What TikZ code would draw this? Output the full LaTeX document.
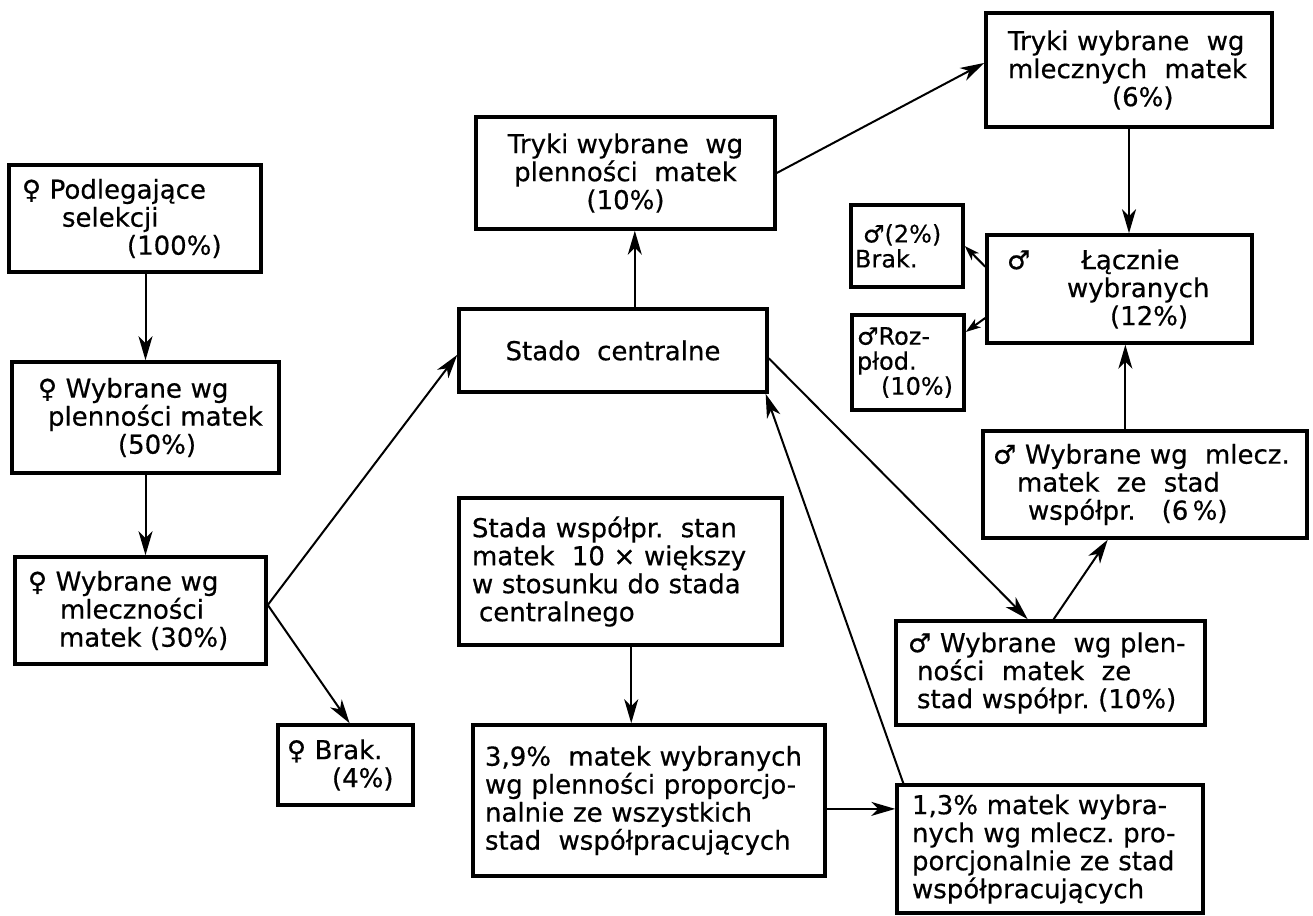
\documentclass[tikz,border=0pt]{standalone}
\usepackage{fontspec}
\setmainfont{DejaVu Sans}[FakeBold=0.5]
\usetikzlibrary{arrows.meta,calc}
\hyphenpenalty=10000
\exhyphenpenalty=10000
\lefthyphenmin=64
\begin{document}
\begin{tikzpicture}[x=1pt,y=-1pt,
  box/.style={draw, line width=3.5pt, rectangle, align=left, inner ysep=2pt, font=\fontsize{26}{28}\selectfont},
  cbox/.style={box, align=center},
  sbox/.style={box, font=\fontsize{24}{25}\selectfont},
  arr/.style={line width=2pt, -{Stealth[length=24pt,width=14pt,inset=7pt]}},
  sarr/.style={line width=2pt, -{Stealth[length=15pt,width=10pt,inset=4pt]}}]
\useasboundingbox (0,0) rectangle (1313,915);

% female column
\node[box, minimum width=252pt, minimum height=107pt, text width=226pt, inner xsep=13pt] (b1) at (135,218.5)
  {♀~Podlegające\\\hspace*{40pt}selekcji\\\hspace*{105pt}(100\%)};
\node[box, minimum width=267pt, minimum height=111pt, text width=215pt, inner xsep=26pt] (b2) at (145.5,417.5)
  {♀~Wybrane~wg\\\hspace*{10pt}plenności~matek\\\hspace*{80pt}(50\%)};
\node[box, minimum width=251pt, minimum height=107pt, text width=225pt, inner xsep=13pt] (b3) at (140.5,610.5)
  {♀~Wybrane~wg\\\hspace*{32pt}mleczności\\\hspace*{31pt}matek~(30\%)};
\node[box, minimum width=135pt, minimum height=80pt, text width=117pt, inner xsep=9pt] (b4) at (345.5,765)
  {♀~Brak.\\\hspace*{45pt}(4\%)};

% centre
\node[cbox, minimum width=308pt, minimum height=83pt] (b5) at (613,350.5) {Stado~~centralne};
\node[cbox, minimum width=299pt, minimum height=112pt] (b6) at (625.5,173)
  {Tryki~wybrane~~wg\\plenności~~matek\\(10\%)};
\node[box, minimum width=323pt, minimum height=147pt, text width=297pt, inner xsep=13pt] (b13) at (620.5,571.5)
  {Stada~współpr.~~stan\\matek~~10~×~większy\\w~stosunku~do~stada\\\hspace*{7pt}centralnego};
\node[box, minimum width=352pt, minimum height=151pt, text width=328pt, inner xsep=12pt] (b14) at (649,800.5)
  {3,9\%~~matek~wybranych\\wg~plenności~proporcjo-\\nalnie~ze~wszystkich\\stad~~współpracujących};

% male side
\node[box, minimum width=286pt, minimum height=114pt, text width=242pt, inner xsep=22pt] (b7) at (1129,70)
  {Tryki~wybrane~~wg\\mlecznych~~matek\\\hspace*{104pt}(6\%)};
\node[box, minimum width=265pt, minimum height=108pt, text width=225pt, inner xsep=20pt] (b8) at (1119.5,289)
  {♂\hspace*{51pt}Łącznie\\\hspace*{60pt}wybranych\\\hspace*{103pt}(12\%)};
\node[sbox, minimum width=112pt, minimum height=82pt, text width=104pt, inner xsep=4pt] (b9) at (907,246)
  {\hspace*{8pt}♂(2\%)\\Brak.};
\node[sbox, minimum width=112pt, minimum height=95pt, text width=102pt, inner xsep=5pt] (b10) at (908,362.5)
  {♂Roz-\\płod.\\\hspace*{24pt}(10\%)};
\node[box, minimum width=324pt, minimum height=107pt, text width=304pt, inner xsep=10pt] (b11) at (1145,484.5)
  {♂~Wybrane~wg~~mlecz.\\\hspace*{24pt}matek~~ze~~stad\\\hspace*{35pt}współpr.~~~(6\,\%)};
\node[box, minimum width=309pt, minimum height=104pt, text width=285pt, inner xsep=12pt] (b12) at (1050.5,673)
  {♂~Wybrane~~wg~plen-\\\hspace*{9pt}ności~~matek~~ze\\\hspace*{9pt}stad~współpr.~(10\%)};
\node[box, minimum width=306pt, minimum height=128pt, text width=276pt, inner xsep=15pt] (b15) at (1050,849)
  {1,3\%~matek~wybra-\\nych~wg~mlecz.~pro-\\porcjonalnie~ze~stad\\współpracujących};

% connectors
\draw[arr] (b1.south -| b2.north) -- (b2.north);
\draw[arr] (b2.south) -- (b2.south |- b3.north);
\coordinate (b3o) at ($(b3.north east)!0.45!(b3.south east)$);
\draw[arr] (b3o) -- ($(b5.north west)!0.55!(b5.south west)$);
\draw[arr] (b3o) -- ($(b4.north west)!0.53!(b4.north east)$);
\coordinate (c56) at ($(b5.north west)!0.57!(b5.north east)$);
\draw[arr] (c56) -- (c56 |- b6.south);
\coordinate (c67) at ($(b7.north west)!0.44!(b7.south west)$);
\draw[arr] (b6.east) -- (c67);
\draw[arr] (b7.south) -- (b7.south |- b8.north);
\draw[sarr] ($(b8.north west)!0.3!(b8.south west)$) -- (b9.east);
\draw[sarr] ($(b8.north west)!0.76!(b8.south west)$) -- ($(b10.north east)!0.19!(b10.south east)$);
\coordinate (c118) at ($(b11.north west)!0.44!(b11.north east)$);
\draw[arr] (c118) -- (c118 |- b8.south);
\draw[arr] ($(b5.north east)!0.59!(b5.south east)$) -- ($(b12.north west)!0.427!(b12.north east)$);
\draw[arr] ($(b12.north west)!0.51!(b12.north east)$) -- ($(b11.south west)!0.386!(b11.south east)$);
\coordinate (c1314) at ($(b14.north west)!0.45!(b14.north east)$);
\draw[arr] (c1314 |- b13.south) -- (c1314);
\coordinate (c1415) at ($(b15.north west)!0.195!(b15.south west)$);
\draw[arr] (c1415 -| b14.east) -- (c1415);
\draw[arr] ($(b15.north west)!0.026!(b15.north east)$) -- ($(b5.south west)!0.99!(b5.south east)$);
\end{tikzpicture}
\end{document}
